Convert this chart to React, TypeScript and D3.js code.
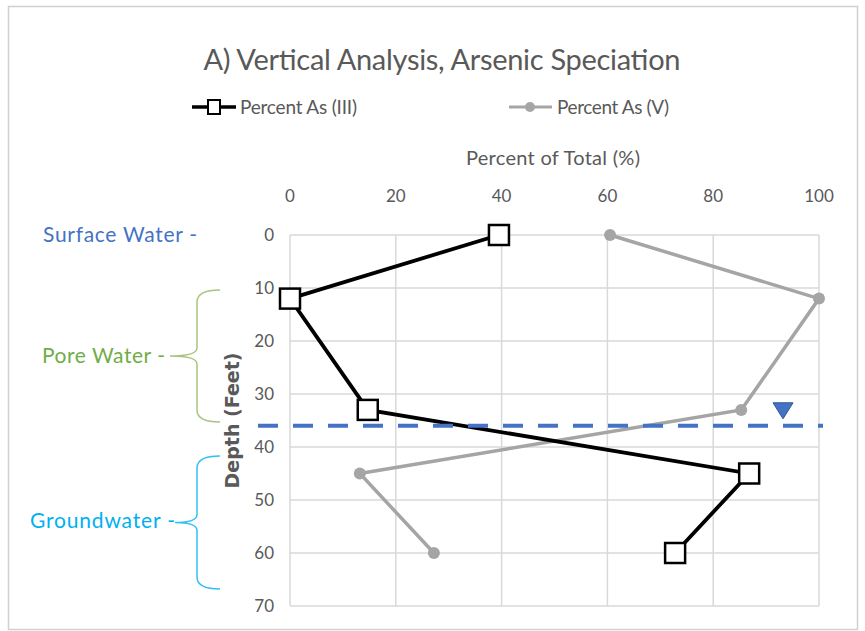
import React from "react";
import * as d3 from "d3";

const depths = [0, 12, 33, 45, 60];
const pctAsIII = [39.5, 0, 14.7, 86.8, 72.8];
const pctAsV = [60.5, 100, 85.3, 13.2, 27.2];
const xTicks = [0, 20, 40, 60, 80, 100];
const yTicks = [0, 10, 20, 30, 40, 50, 60, 70];
const waterTableDepth = 36;
const waterTableMarkerX = 93.2;

const FONT = "Lato, 'Open Sans', sans-serif";

export default function App() {
  const W = 865, H = 631;
  const x = d3.scaleLinear().domain([0, 100]).range([290, 819]);
  const y = d3.scaleLinear().domain([0, 70]).range([235, 606]);
  const line = d3.line<[number, number]>().x(d => x(d[0])).y(d => y(d[1]));
  const dIII = depths.map((d, i) => [pctAsIII[i], d] as [number, number]);
  const dV = depths.map((d, i) => [pctAsV[i], d] as [number, number]);
  const grid = "#d9d9d9";
  const txt = "#595959";
  const wy = y(waterTableDepth);
  const tx = x(waterTableMarkerX);

  const brace = (x0: number, y0: number, y1: number, xm: number, xv: number) => {
    const ym = (y0 + y1) / 2;
    return `M${x0},${y0} Q${xv},${y0} ${xv},${y0 + 12} L${xv},${ym - 8} Q${xv},${ym} ${xm},${ym} Q${xv},${ym} ${xv},${ym + 8} L${xv},${y1 - 12} Q${xv},${y1} ${x0},${y1}`;
  };

  return (
    <svg width={W} height={H} style={{ position: "absolute", left: 0, top: 0 }} fontFamily={FONT}>
      <rect x={0} y={0} width={W} height={H} fill="#fff" />
      <rect x={8.5} y={6.5} width={849} height={623} fill="none" stroke="#d0d0d0" strokeWidth={1.5} />
      <text x={442} y={70} textAnchor="middle" fontSize={29} fill={txt} textLength={477}>A) Vertical Analysis, Arsenic Speciation</text>

      {/* legend */}
      <line x1={192} x2={236} y1={107} y2={107} stroke="#000" strokeWidth={3.5} />
      <rect x={208} y={100} width={12} height={14} fill="#fff" stroke="#000" strokeWidth={2} />
      <text x={240} y={114} fontSize={19} fill={txt} textLength={117}>Percent As (III)</text>
      <line x1={509} x2={552} y1={107} y2={107} stroke="#a5a5a5" strokeWidth={3} />
      <circle cx={530} cy={107} r={5} fill="#a5a5a5" />
      <text x={557} y={114} fontSize={19} fill={txt} textLength={112}>Percent As (V)</text>

      <text x={553} y={165} textAnchor="middle" fontSize={20} fill={txt} textLength={174}>Percent of Total (%)</text>

      {/* grid */}
      {xTicks.map(t => (
        <line key={"gx" + t} x1={x(t)} x2={x(t)} y1={y(0)} y2={y(70)} stroke={grid} strokeWidth={1.5} />
      ))}
      {yTicks.map(t => (
        <line key={"gy" + t} x1={x(0)} x2={x(100)} y1={y(t)} y2={y(t)} stroke={grid} strokeWidth={1.5} />
      ))}
      {xTicks.map(t => (
        <text key={"tx" + t} x={x(t)} y={202} textAnchor="middle" fontSize={17} fill={txt}>{t}</text>
      ))}
      {yTicks.map(t => (
        <text key={"ty" + t} x={274} y={y(t) + 6} textAnchor="end" fontSize={17} fill={txt}>{t}</text>
      ))}
      <text transform={`translate(239,${(y(0) + y(70)) / 2}) rotate(-90)`} textAnchor="middle" fontSize={19} fontWeight="bold" fill={txt} fontFamily="'DejaVu Sans', sans-serif">Depth (Feet)</text>

      {/* series */}
      <path d={line(dV) || ""} fill="none" stroke="#a5a5a5" strokeWidth={3.5} />
      {dV.map((p, i) => (
        <circle key={"c" + i} cx={x(p[0])} cy={y(p[1])} r={6} fill="#a5a5a5" />
      ))}
      <path d={line(dIII) || ""} fill="none" stroke="#000" strokeWidth={3.8} />
      {dIII.map((p, i) => (
        <rect key={"s" + i} x={x(p[0]) - 10} y={y(p[1]) - 10} width={20} height={20} fill="#fff" stroke="#000" strokeWidth={2.5} />
      ))}

      {/* water table */}
      <line x1={258} x2={823} y1={wy} y2={wy} stroke="#4472c4" strokeWidth={4} strokeDasharray="20,15" />
      <path d={`M${tx - 10},${wy - 23} L${tx + 10},${wy - 23} L${tx},${wy - 7} Z`} fill="#4472c4" stroke="#2f5597" strokeWidth={1} />

      {/* annotations */}
      <text x={43} y={242} fontSize={21} fill="#4472c4" textLength={154}>Surface Water -</text>
      <text x={42} y={363} fontSize={21} fill="#70ad47" textLength={123}>Pore Water -</text>
      <path d={brace(220, 290, 422, 170, 197)} fill="none" stroke="#a9c47f" strokeWidth={1.5} />
      <text x={30} y={528} fontSize={21} fill="#00b0f0" textLength={145}>Groundwater -</text>
      <path d={brace(220, 456, 589, 175, 197)} fill="none" stroke="#33c0f3" strokeWidth={1.5} />
    </svg>
  );
}
